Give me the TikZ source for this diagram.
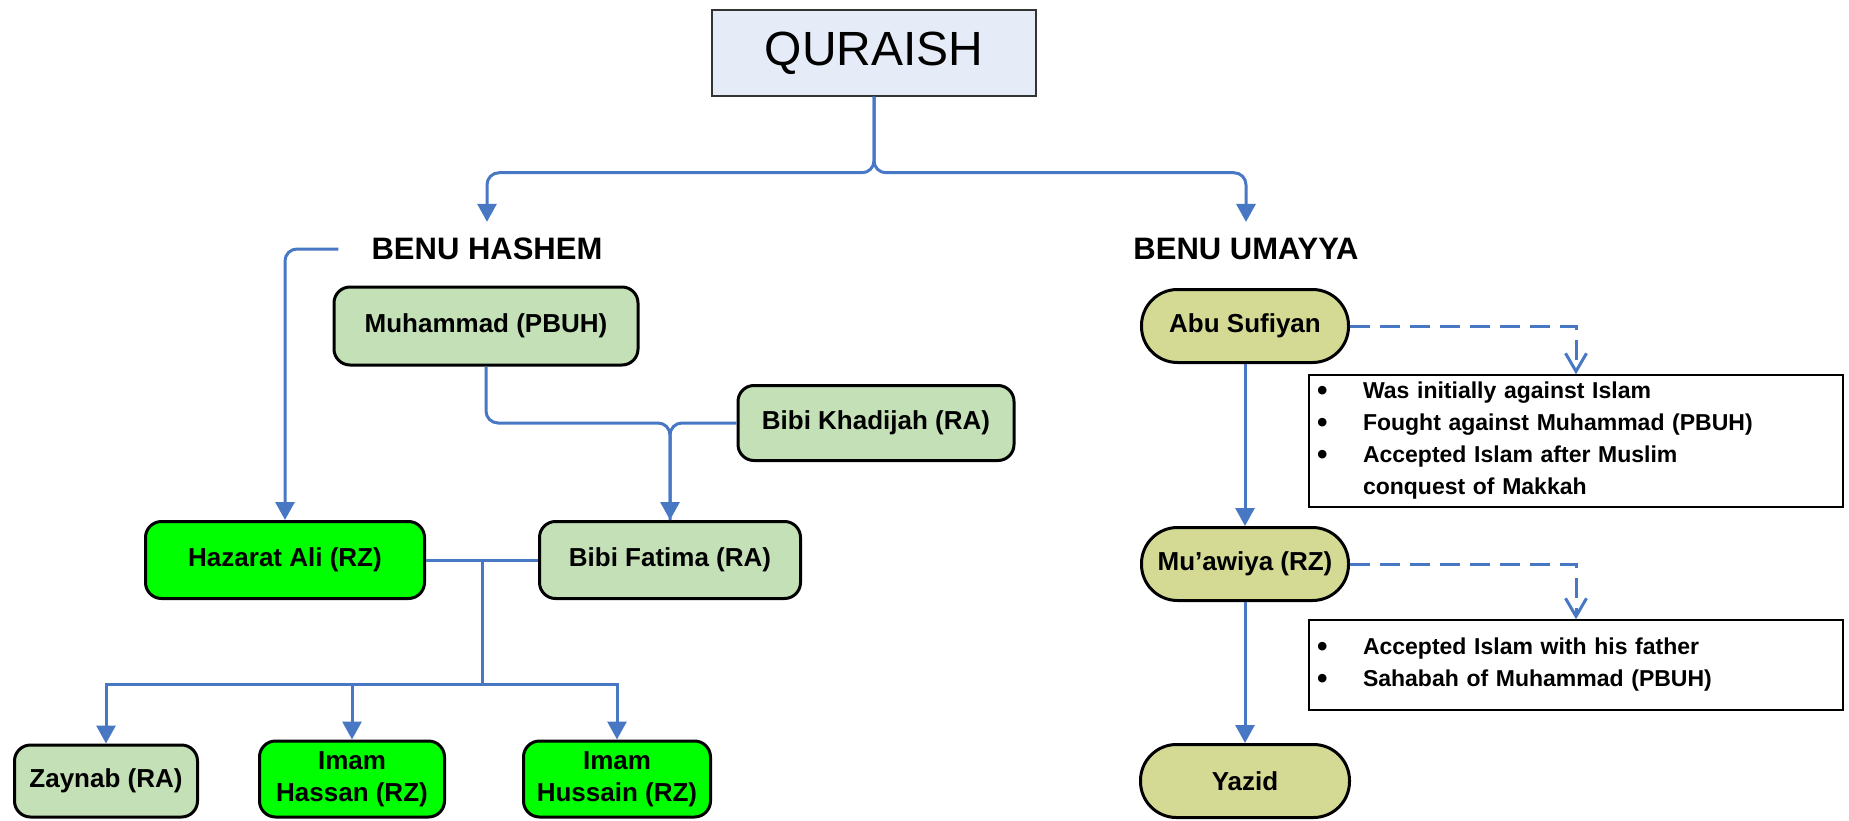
\documentclass[tikz,border=0pt]{standalone}
\usepackage{fontspec}
\setmainfont{Liberation Sans}
\usetikzlibrary{arrows.meta,calc}
\definecolor{linkblue}{RGB}{72,120,196}
\definecolor{qboxfill}{RGB}{230,236,247}
\definecolor{palegreen}{RGB}{195,224,183}
\definecolor{brightgreen}{RGB}{0,255,0}
\definecolor{umayyafill}{RGB}{212,218,148}
\newcommand{\notebullet}{\makebox[46pt][l]{\smash{\raisebox{-1.5pt}{\scalebox{1.3}{\textbullet}}}}}
\begin{document}
\begin{tikzpicture}[x=1pt,y=-1pt,
        arrow/.style = {line width=3pt,linkblue,-{Triangle[length=18pt,width=19pt]}},
        link/.style = {line width=3pt,linkblue},
        dasharrow/.style = {line width=3pt,linkblue,dash pattern=on 20pt off 10pt,
            -{Straight Barb[length=18pt,width=21pt]}},
        person/.style = {draw,line width=3pt,rounded corners=16pt,align=center,
            font=\fontsize{26}{32}\selectfont\bfseries},
        umayya/.style = {person,fill=umayyafill,rounded corners=36pt,
            minimum width=207pt,minimum height=73pt},
        clan/.style = {inner xsep=33pt,inner ysep=16pt,
            font=\fontsize{31}{36}\selectfont\bfseries},
        note/.style = {draw,line width=1.5pt,minimum width=534pt,inner xsep=8pt,
            text width=518pt,align=left,font=\fontsize{23}{32}\selectfont\bfseries}]
                \useasboundingbox (0,0) rectangle (1849,821);

                \node[draw=black!80,line width=1.5pt,fill=qboxfill,minimum width=324pt,
                    minimum height=86pt,font=\fontsize{48}{58}\selectfont] (quraish) at (874,53) {QURAISH};
                \node[clan] (hashem) at (487,249) {BENU HASHEM};
                \node[clan] (umayya) at (1246,249) {BENU UMAYYA};

                \node[person,fill=palegreen,minimum width=304pt,minimum height=78pt]
                    (muhammad) at (486,326) {Muhammad (PBUH)};
                \node[person,fill=palegreen,minimum width=276pt,minimum height=75pt]
                    (khadijah) at (876,423) {Bibi Khadijah (RA)};
                \node[person,fill=brightgreen,minimum width=279pt,minimum height=77pt]
                    (ali) at (285,560) {Hazarat Ali (RZ)};
                \node[person,fill=palegreen,minimum width=261pt,minimum height=77pt]
                    (fatima) at (670,560) {Bibi Fatima (RA)};
                \node[person,fill=palegreen,minimum width=183pt,minimum height=72pt]
                    (zaynab) at (106,781) {Zaynab (RA)};
                \node[person,fill=brightgreen,minimum width=185pt,minimum height=76pt]
                    (hassan) at (352,779) {Imam\\Hassan (RZ)};
                \node[person,fill=brightgreen,minimum width=187pt,minimum height=76pt]
                    (hussain) at (617,779) {Imam\\Hussain (RZ)};

                \node[umayya] (abu) at (1245,326) {Abu Sufiyan};
                \node[umayya] (muawiya) at (1245,564) {Mu’awiya (RZ)};
                \node[umayya,minimum width=209pt] (yazid) at (1245,781) {Yazid};

                \node[note,minimum height=132pt] (note1) at (1576,441) {%
                    \notebullet Was initially against Islam\\
                    \notebullet Fought against Muhammad (PBUH)\\
                    \notebullet Accepted Islam after Muslim\\
                    \hspace*{46pt}conquest of Makkah};
                \node[note,minimum height=90pt] (note2) at (1576,665) {%
                    \notebullet Accepted Islam with his father\\
                    \notebullet Sahabah of Muhammad (PBUH)};

                \draw[arrow,rounded corners=12pt] (quraish.south) -- ++(0,76) -| (hashem.north);
                \draw[arrow,rounded corners=12pt] (quraish.south) -- ++(0,76) -| (umayya.north);
                \draw[arrow,rounded corners=12pt] (hashem.west) -| (ali.north);

                \coordinate (wed) at (fatima.north |- khadijah.west);
                \draw[arrow,rounded corners=12pt] (muhammad.south) |- (wed) -- (fatima.north);
                \draw[link,rounded corners=12pt] (khadijah.west) -- (wed) -- (fatima.north);

                \draw[link] (ali.east) -- (fatima.west);
                \coordinate (fam) at ($(ali.east)!0.5!(fatima.west)$);
                \path (fam) ++(0,124) coordinate (kids);
                \draw[link] (fam) -- (kids);
                \draw[arrow] (kids) -| (zaynab.north);
                \draw[arrow] (kids) -| (hassan.north);
                \draw[arrow] (kids) -| (hussain.north);

                \draw[arrow] (abu.south) -- (muawiya.north);
                \draw[arrow] (muawiya.south) -- (yazid.north);
                \draw[dasharrow] (abu.east) -| (note1.north);
                \draw[dasharrow] (muawiya.east) -| (note2.north);
            \end{tikzpicture}
\end{document}
